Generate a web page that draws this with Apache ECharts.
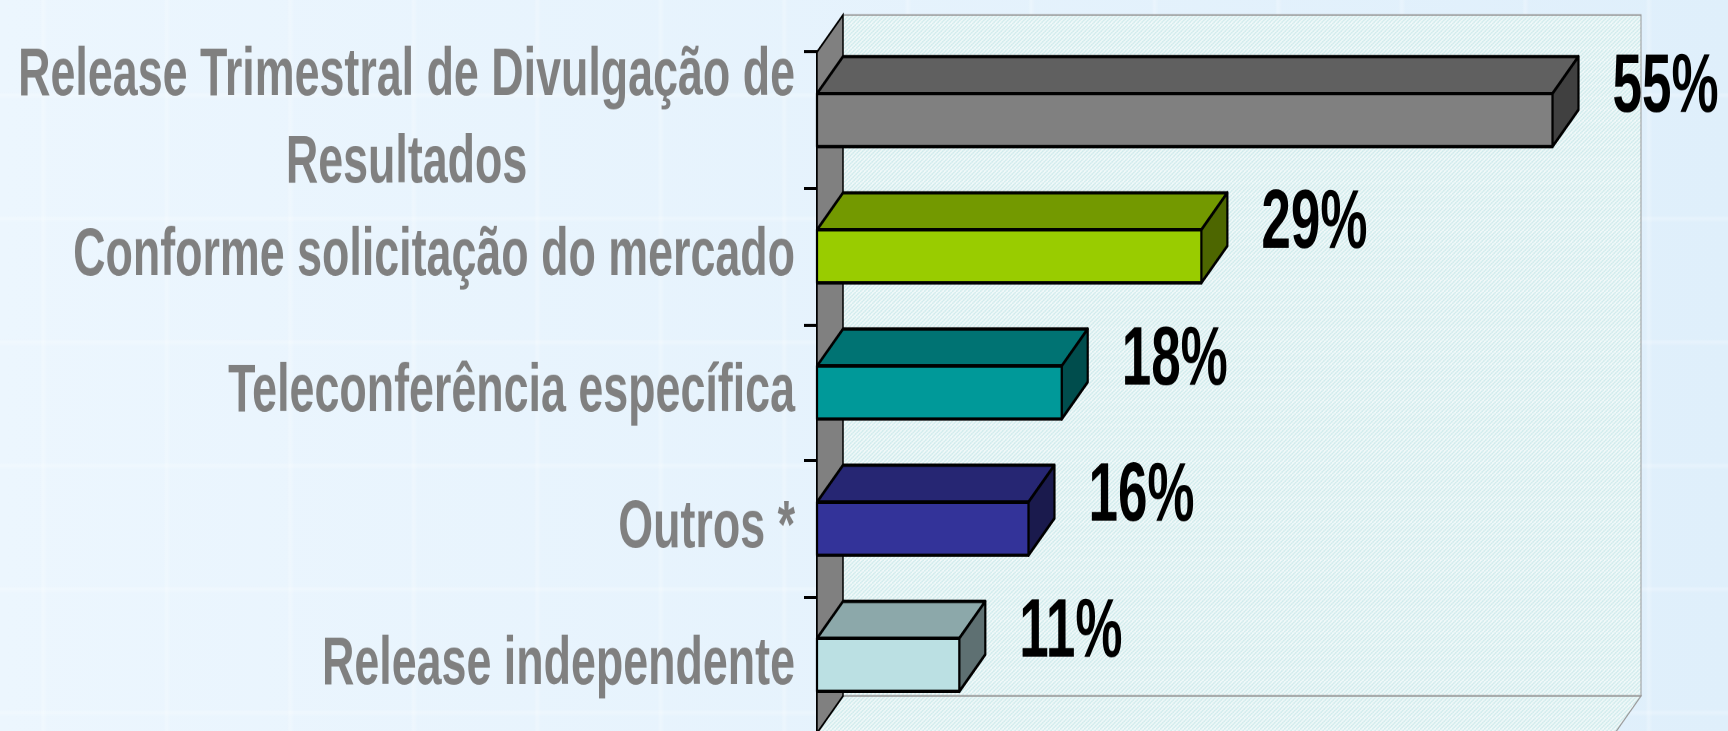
<!DOCTYPE html>
<html>
<head>
<meta charset="utf-8">
<script src="https://cdn.jsdelivr.net/npm/echarts@6/dist/echarts.min.js"></script>
<style>
  html, body { margin: 0; padding: 0; overflow: hidden; }
  body {
    width: 1728px; height: 731px;
    background-color: #e3f1fc;
    background-image:
      linear-gradient(90deg, rgba(255,255,255,0) 0, rgba(255,255,255,0.25) 3px, rgba(255,255,255,0) 7px),
      linear-gradient(180deg, rgba(255,255,255,0) 0, rgba(255,255,255,0.25) 3px, rgba(255,255,255,0) 7px),
      linear-gradient(90deg, #ecf6fe 0%, #dfeffb 100%);
    background-size: 123.5px 123.5px, 123.5px 123.5px, 100% 100%;
    background-position: 40px 0, 0 92px, 0 0;
  }
  #main { width: 1728px; transform-origin: 0 0; }
</style>
</head>
<body>
<div id="main"></div>
<script>
  // dados
  const categories = [
    'Release Trimestral de Divulgação de\nResultados',
    'Conforme solicitação do mercado',
    'Teleconferência específica',
    'Outros *',
    'Release independente'
  ];
  const values = [55.3, 28.9, 18.4, 15.9, 10.7];
  const barColors = ['#808080', '#99cc00', '#009999', '#333399', '#bbe0e3'];
  const xMax = 60;

  // the original slide is stretched vertically, so the chart is too
  const K = 1.52;
  const DX = 26, DY = -37 / K;   // depth of the 3d boxes
  const FONT = '"Liberation Sans", Arial, sans-serif';

  const dom = document.getElementById('main');
  dom.style.height = (731 / K) + 'px';
  dom.style.transform = 'scaleY(' + K + ')';

  function shade(hex, f) {
    const n = parseInt(hex.slice(1), 16);
    const r = Math.round(((n >> 16) & 255) * f);
    const g = Math.round(((n >> 8) & 255) * f);
    const b = Math.round((n & 255) * f);
    return 'rgb(' + r + ',' + g + ',' + b + ')';
  }

  function hatch() {
    const c = document.createElement('canvas');
    c.width = 12; c.height = 8;
    const g = c.getContext('2d');
    g.fillStyle = '#ffffff';
    g.fillRect(0, 0, 12, 8);
    g.strokeStyle = '#b2dfe2';
    g.lineWidth = 1.0;
    for (let x0 = -12; x0 <= 12; x0 += 4) {
      g.beginPath();
      g.moveTo(x0, 8);
      g.lineTo(x0 + 12, 0);
      g.stroke();
    }
    return c;
  }
  const hatchFill = { image: hatch(), repeat: 'repeat' };

  function renderWalls(params, api) {
    const band = api.size([0, 1])[1];
    const a = api.coord([0, 0]);
    const b = api.coord([xMax, categories.length - 1]);
    const xL = a[0], xR = b[0];
    const yT = a[1] - band / 2, yB = b[1] + band / 2;
    return {
      type: 'group',
      children: [
        { type: 'rect', shape: { x: xL + DX, y: yT + DY, width: xR - xL, height: yB - yT },
          style: { fill: hatchFill, stroke: '#999', lineWidth: 1 } },
        { type: 'polygon', shape: { points: [[xL, yB], [xL + DX, yB + DY], [xR + DX, yB + DY], [xR, yB]] },
          style: { fill: hatchFill, stroke: '#999', lineWidth: 1 } },
        { type: 'polygon', shape: { points: [[xL, yT], [xL + DX, yT + DY], [xL + DX, yB + DY], [xL, yB]] },
          style: { fill: '#808080', stroke: '#000', lineWidth: 1.5 } }
      ]
    };
  }

  function renderBar(params, api) {
    const v = api.value(0);
    const i = api.value(1);
    const start = api.coord([0, i]);
    const end = api.coord([v, i]);
    const h = api.size([0, 1])[1] * 0.39;
    const x0 = start[0], x1 = end[0];
    const yT = start[1] - h / 2, yB = start[1] + h / 2;
    const base = barColors[params.dataIndex];
    const line = { stroke: '#000', lineWidth: 2.2, lineJoin: 'round' };
    return {
      type: 'group',
      children: [
        { type: 'polygon', shape: { points: [[x0, yT], [x0 + DX, yT + DY], [x1 + DX, yT + DY], [x1, yT]] },
          style: Object.assign({ fill: shade(base, 0.75) }, line) },
        { type: 'polygon', shape: { points: [[x1, yT], [x1 + DX, yT + DY], [x1 + DX, yB + DY], [x1, yB]] },
          style: Object.assign({ fill: shade(base, 0.5) }, line) },
        { type: 'rect', shape: { x: x0, y: yT, width: x1 - x0, height: h },
          style: Object.assign({ fill: base }, line) },
        { type: 'text', x: x1 + DX + 34, y: yT - 3, scaleY: 1.03,
          style: { text: Math.round(v) + '%', fill: '#000', fontSize: 53, fontWeight: 'bold',
                   fontFamily: FONT, align: 'left', verticalAlign: 'middle' } }
      ]
    };
  }

  const chart = echarts.init(dom, null, { renderer: 'canvas', devicePixelRatio: 2 });
  chart.setOption({
    backgroundColor: 'transparent',
    animation: false,
    grid: { left: 817, right: 113, top: 52 / K, height: (733 - 52) / K, outerBoundsMode: 'none' },
    xAxis: { type: 'value', min: 0, max: xMax, show: false },
    yAxis: {
      type: 'category',
      inverse: true,
      data: categories,
      axisLine: { show: true, lineStyle: { color: '#000', width: 2 } },
      axisTick: { show: true, length: 13, lineStyle: { color: '#000', width: 2 } },
      axisLabel: {
        margin: 22,
        color: '#808080',
        fontSize: 44.8,
        fontWeight: 'bold',
        fontFamily: FONT,
        lineHeight: 87 / K,
        formatter: function (v) {
          return v.split('\n').map(function (s) { return '{c|' + s + '}'; }).join('\n');
        },
        rich: {
          c: { align: 'center', color: '#808080', fontSize: 44.8, fontWeight: 'bold',
               fontFamily: FONT, lineHeight: 87 / K }
        }
      }
    },
    series: [
      { type: 'custom', renderItem: renderWalls, data: [[0, 0]], z: 1, silent: true },
      { type: 'custom', renderItem: renderBar, data: values.map(function (v, i) { return [v, i]; }), z: 2 }
    ]
  });
</script>
</body>
</html>
